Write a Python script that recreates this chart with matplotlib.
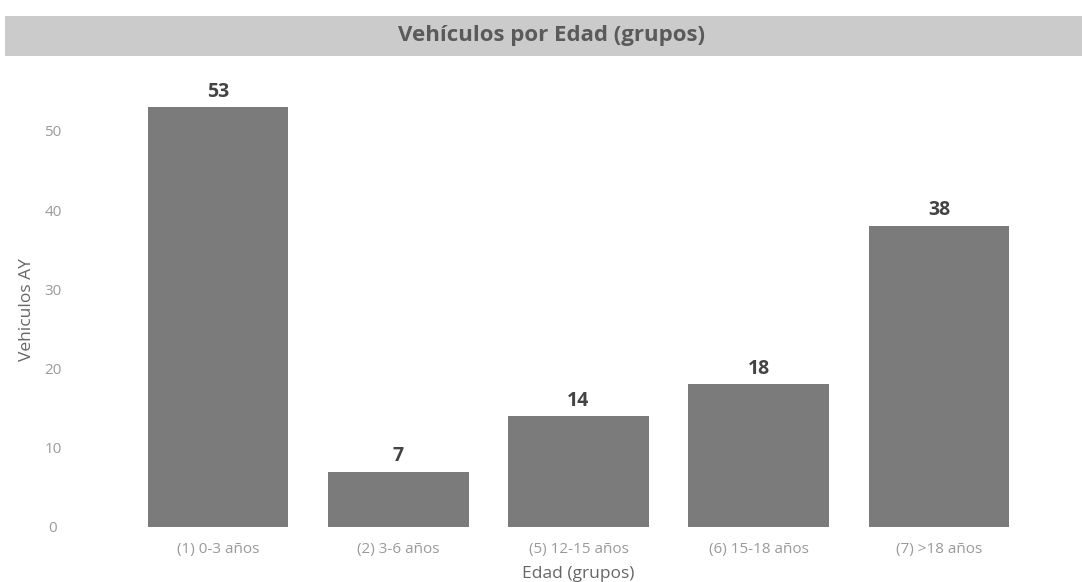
import matplotlib
matplotlib.use("Agg")
import matplotlib.pyplot as plt
from matplotlib.patches import Rectangle

categories = ["(1) 0-3 años", "(2) 3-6 años", "(5) 12-15 años", "(6) 15-18 años", "(7) >18 años"]
values = [53, 7, 14, 18, 38]
yticks = [0, 10, 20, 30, 40, 50]

plt.rcParams['font.family'] = ['Open Sans', 'DejaVu Sans']

W, H = 1082, 582
fig = plt.figure(figsize=(W / 100, H / 100), dpi=100)
fig.patch.set_facecolor('white')

# title band
fig.patches.append(Rectangle((5 / W, 1 - 56 / H), 1 - 5 / W, 40 / H,
                             transform=fig.transFigure, facecolor='#cbcbcb',
                             edgecolor='none', zorder=0))
fig.text(552 / W, 1 - 36 / H, "Vehículos por Edad (grupos)", ha='center', va='center',
         fontsize=16, fontweight='bold', color='#5a5a5a')

left, right = 128 / W, 1029 / W
bottom = (H - 527) / H
top = (H - 91.4) / H
ax = fig.add_axes([left, bottom, right - left, top - bottom])
x = range(len(categories))
bars = ax.bar(x, values, width=0.78, color='#7b7b7b', edgecolor='none')
for xi, v in zip(x, values):
    ax.text(xi, v + 0.7, str(v), ha='center', va='bottom', fontsize=14,
            fontweight='bold', color='#444444', clip_on=False)

ax.set_xlim(-0.5, len(categories) - 0.5)
ax.set_ylim(0, 55)
ax.set_yticks(yticks)
ax.set_xticks(list(x))
ax.set_xticklabels(categories)
for s in ax.spines.values():
    s.set_visible(False)
ax.tick_params(axis='both', length=0, colors='#9a9a9a', labelsize=11)
ax.tick_params(axis='y', pad=54)
ax.tick_params(axis='x', pad=11)
for lbl in ax.get_yticklabels():
    lbl.set_horizontalalignment('center')
ax.set_ylabel("Vehiculos AY", fontsize=12.5, color='#666666')
ax.yaxis.set_label_coords((35 - 128) / 901, 0.5)
ax.set_xlabel("Edad (grupos)", fontsize=12.5, color='#666666', labelpad=6)

fig.savefig("out.png", dpi=100)
